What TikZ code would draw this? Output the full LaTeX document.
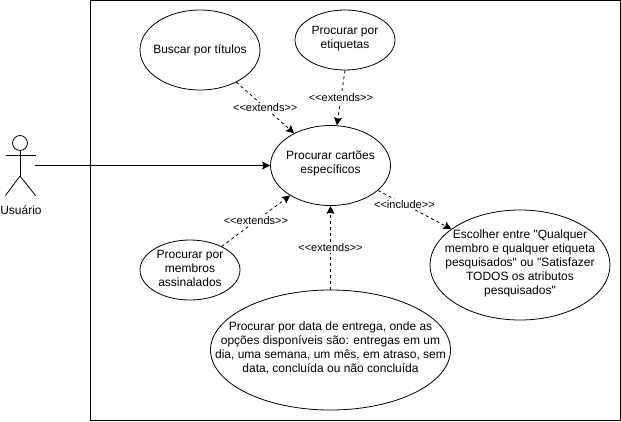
\documentclass[tikz,border=0pt]{standalone}
\usepackage{fontspec}
\setmainfont{Liberation Sans}[Ligatures=TeXOff]
\usetikzlibrary{shapes.geometric,arrows.meta}
\tikzset{
  usecase/.style={draw,line width=0.8pt,ellipse,inner xsep=-60pt,inner ysep=-40pt,align=center,font=\fontsize{12}{14}\selectfont},
  stereo/.style={fill=white,inner sep=1pt,font=\fontsize{11}{12}\selectfont},
  conn/.style={line width=0.8pt,-{Stealth[length=8pt,width=8pt,inset=1.5pt]}},
  connd/.style={conn,dash pattern=on 3pt off 3pt},
}
\begin{document}
\begin{tikzpicture}[x=1pt,y=-1pt]
  \useasboundingbox (0,0) rectangle (621,421);

  \draw [line width=1pt] (90.5,0.5) rectangle (620.5,420.5);

  % actor
  \draw [line width=0.8pt] (20,143) circle (7.5);
  \draw [line width=0.8pt] (20,150.5) -- (20,176) (5.5,155.5) -- (35.5,155.5);
  \draw [line width=0.8pt] (20,176) -- (5.5,195.5) (20,176) -- (35.5,195.5);
  \coordinate (actor) at (35,165.5);
  \node [font=\fontsize{12}{14}\selectfont] (usuario) at (21,210) {Usuário};

  % use cases
  \node [usecase,minimum width=120,minimum height=80] (main) at (330.5,165.5) {\\[-9pt]Procurar cartões\\específicos};
  \node [usecase,minimum width=120,minimum height=80] (titulos) at (200,50) {Buscar por títulos};
  \node [usecase,minimum width=100,minimum height=60] (etiquetas) at (345,40) {\\[-9pt]Procurar por\\etiquetas};
  \node [usecase,minimum width=100,minimum height=60] (membros) at (190,270) {\\[-9pt]Procurar por\\membros\\assinalados};
  \node [usecase,minimum width=180,minimum height=110] (escolher) at (520,265) {\\[-9pt]Escolher entre "Qualquer\\membro e qualquer etiqueta\\pesquisados" ou "Satisfazer\\TODOS os atributos\\pesquisados"};
  \node [usecase,minimum width=240,minimum height=120] (data) at (330.5,350) {\\[-9pt]Procurar por data de entrega, onde as\\opções disponíveis são: entregas em um\\dia, uma semana, um mês, em atraso, sem\\data, concluída ou não concluída};

  % connectors
  \draw [conn] (actor) -- (main);
  \draw [connd] (titulos) -- node [stereo] (ext1) {<<extends>>} (main);
  \draw [connd] (etiquetas.south) -- node [stereo] (ext2) {<<extends>>} (main.81);
  \draw [connd] (membros) -- node [stereo] (ext3) {<<extends>>} (main);
  \draw [connd] (data.north) -- node [stereo] (ext4) {<<extends>>} (main.south);
  \draw [connd] (main) -- node [stereo,pos=0.36] (inc1) {<<include>>} (escolher);
\end{tikzpicture}
\end{document}
